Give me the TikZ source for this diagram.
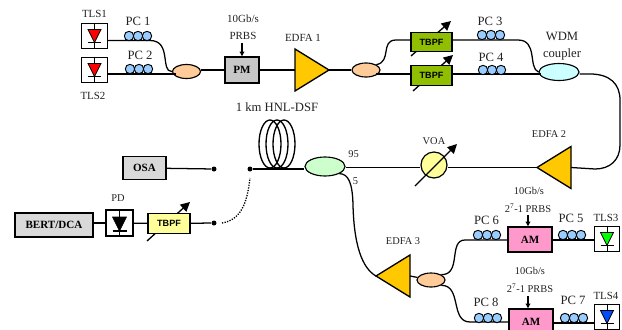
\documentclass[tikz,border=0pt]{standalone}
\usepackage{fontspec}
\setmainfont{Liberation Serif}
\newfontfamily\sansb{Liberation Sans}
\usetikzlibrary{shapes.geometric,arrows.meta}
\definecolor{edfa}{HTML}{FFC800}
\definecolor{filt}{HTML}{8FBF00}
\definecolor{pcblue}{HTML}{99CCFF}
\definecolor{peach}{HTML}{FFCC99}
\definecolor{wdm}{HTML}{CCFFFF}
\definecolor{mint}{HTML}{CCFFCC}
\definecolor{pale}{HTML}{FFFF99}
\definecolor{pink}{HTML}{FF99CC}
\definecolor{boxgray}{HTML}{D9D9D9}
\definecolor{lab}{HTML}{222222}
\newdimen\pxu \pxu=0.75pt
\tikzset{
  fib/.style={line width=0.95pt,black},
  lbl/.style={font=\fontsize{9.5}{10}\selectfont,text=lab,inner sep=0pt},
  slbl/.style={font=\fontsize{7.8}{9}\selectfont,text=lab,inner sep=0pt},
  mbox/.style={draw,line width=1.1pt,rectangle,inner sep=0pt,minimum width=#1},
  bfont/.style={font=\fontsize{8.3}{9}\selectfont\bfseries},
  filter/.style={mbox=41\pxu,minimum height=19.5\pxu,fill=filt,font=\sansb\fontsize{6.8}{8}\selectfont\bfseries},
  cpl/.style={draw,line width=0.85pt,ellipse,inner sep=0pt,minimum width=#1*2\pxu,minimum height=14\pxu},
  amp/.style={draw,line width=1pt,fill=edfa,isosceles triangle,isosceles triangle stretches,
     inner sep=0pt,outer sep=0pt,minimum width=42\pxu,minimum height=34\pxu},
  tune/.style={line width=1pt,-{Triangle[length=7pt,width=7pt]}},
  small arrow/.style={line width=0.85pt,-{Triangle[length=3.5pt,width=3.5pt]}},
  port/.style={circle,fill=black,inner sep=0pt,minimum size=5\pxu},
  pc/.pic={\foreach \i in {-9,0,9}\draw[line width=0.7pt,fill=pcblue] (\i,0) circle[radius=4.7];},
}
\newcommand{\laser}[4]{% name, x, y, colour
  \node[draw,line width=1pt,fill=white,minimum width=25.5\pxu,minimum height=25.5\pxu,inner sep=0pt] (#1) at (#2,#3) {};
  \draw[line width=0.7pt] (#1.north) -- (#1.south);
  \draw[line width=0.6pt,fill=#4] (#2-6.5,#3-6.5) -- (#2+6.5,#3-6.5) -- (#2,#3+6.5) -- cycle;
  \draw[line width=0.8pt] (#2-6.5,#3+6.5) -- (#2+6.5,#3+6.5);
}
\begin{document}
\begin{tikzpicture}[x=0.75pt,y=-0.75pt]
\useasboundingbox (0,0) rectangle (622,329);
\clip (0,0) rectangle (622,329);
% tuning arrows that pass behind the filters
\draw[tune] (411,56) -- (451,21);
\draw[tune] (413,91) -- (453,55);
\draw[tune] (147,241) -- (190,202);
% sources
\laser{tlsa}{94.5}{36}{red}
\laser{tlsb}{94.5}{70}{red}
\node[lbl,font=\fontsize{8.2}{9}\selectfont] (tlsat) at (94.5,14) {TLS1};
\node[lbl,font=\fontsize{8.2}{9}\selectfont] (tlsbt) at (93,96) {TLS2};
\node[cpl=14] (ca) at (186.5,71.5) [fill=peach] {};
\node[mbox=34\pxu,minimum height=26\pxu,fill=boxgray!80!gray,bfont] (pm) at (242,70) {PM};
\node[amp,anchor=apex,shape border rotate=0] (ea) at (329,70) {};
\node[cpl=14] (cb) at (366,70) [fill=peach] {};
\node[filter] (fa) at (431.5,42) {TBPF};
\node[filter] (fb) at (431.5,75.5) {TBPF};
\node[cpl=20,minimum height=17\pxu,fill=wdm] (wdmc) at (559,72) {};
\node[amp,anchor=apex,shape border rotate=180] (eb) at (537,167.5) {};
\node[draw,line width=0.9pt,circle,fill=pale,minimum size=26\pxu,inner sep=0pt] (voa) at (434,165) {};
\node[cpl=20,minimum height=19\pxu,fill=mint] (cc) at (325,166.5) {};
\node[port] (pa) at (250,169) {};
\node[port] (pb) at (214,169) {};
\node[port] (pc) at (214,223) {};
\node[mbox=43\pxu,minimum height=23\pxu,fill=boxgray,bfont] (osa) at (144.5,168) {OSA};
\node[mbox=78\pxu,minimum height=24\pxu,fill=boxgray,bfont] (bert) at (54,225) {BERT/DCA};
\node[draw,line width=1pt,minimum width=27\pxu,minimum height=26\pxu,inner sep=0pt] (pd) at (119.5,223) {};
\node[filter,fill=pale,minimum width=42\pxu] (fc) at (169,223.5) {TBPF};
\node[amp,anchor=apex,shape border rotate=180] (ec) at (376,276) {};
\node[cpl=14] (cd) at (431,280) [fill=peach] {};
\node[mbox=44\pxu,minimum height=25\pxu,fill=pink,bfont] (ama) at (530,239.5) {AM};
\node[mbox=44\pxu,minimum height=26\pxu,fill=pink,bfont] (amb) at (531,322) {AM};
\laser{tlsc}{607}{239}{green}
\laser{tlsd}{607}{317}{blue!70!cyan}
\coordinate (in1) at (242,43);
\coordinate (in2) at (528,215);
\coordinate (in3) at (528,296);
% fibres
\draw[fib] (tlsa.east|-0,40.5) -- (150,40.5) .. controls (172,40.5) and (160,72) .. (ca.west);
\draw[fib] (tlsb.east|-0,74) -- (176,74);
\draw[fib] (ca.east|-0,70) -- (pm.west);
\draw[fib] (pm) -- (ea.lower side);
\draw[fib] (ea) -- (cb);
\draw[fib] (cb.north east) .. controls (392,62) and (380,40) .. (396,40) -- (fa.west|-0,40);
\draw[fib] (cb.south east|-0,74) -- (fb.west|-0,74);
\draw[fib] (fa.east|-0,40) -- (518,40) .. controls (538,40) and (528,68) .. (wdmc.west);
\draw[fib] (fb.east|-0,74) -- (541,74);
\draw[fib] (wdmc.east|-0,74) -- (590,74) .. controls (610,74) and (620,84) .. (620,100) -- (620,145) .. controls (620,160) and (610,169) .. (595,169) -- (eb.lower side);
\draw[fib] (eb.apex) -- (voa.east|-0,167.5);
\draw[fib] (voa.west|-0,167.5) -- (cc.east|-0,167.5);
\draw[fib] (pa) -- (cc.west|-0,169);
\draw[fib] (osa) -- (pb);
\draw[fib] (bert.east|-0,223) -- (pd.west|-0,223);
\draw[fib] (pd) -- (fc);
\draw[fib] (fc) -- (pc);
\draw[fib,densely dotted,line width=1pt] (222,223) .. controls (240,220) and (247,205) .. (250,178);
\draw[fib] (cc.south east) .. controls (348,174) and (352.5,182) .. (353,205) .. controls (354,245) and (362,268) .. (ec.apex);
\draw[fib] (ec.lower side) -- (cd);
\draw[fib] (cd.north east) .. controls (462,275) and (448,240) .. (465,240) -- (ama.west|-0,240);
\draw[fib] (cd.south east) .. controls (462,285) and (450,322) .. (470,322) -- (amb.west|-0,322);
\draw[fib] (ama.east|-0,240) -- (tlsc.west|-0,240);
\draw[fib] (amb.east|-0,323) -- (tlsd.west|-0,323);
% coil
\foreach \xc in {270,277,284}
  \draw[line width=1pt] (\xc,144) ellipse [x radius=11,y radius=24];
% polarisation controllers
\path (138,36) pic {pc} (139,69) pic {pc} (491,35) pic {pc} (492,70) pic {pc}
      (487,235) pic {pc} (572,235) pic {pc} (488,318) pic {pc} (574,318) pic {pc};
% arrows on top
\draw[tune] (415,186) -- (457,144);
\draw[small arrow] (in1) -- (pm.north);
\draw[small arrow] (in2) -- (ama.north-|in2);
\draw[small arrow] (in3) -- (amb.north-|in3);
% photodiode
\draw[line width=0.7pt] (pd.north) -- (pd.south);
\draw[fill=black] (112.5,217) -- (126.5,217) -- (119.5,231) -- cycle;
\draw[line width=0.8pt] (112.5,231) -- (126.5,231);
% labels
\node[lbl] (pc1t) at (138,21) {PC 1};
\node[lbl] (pc2t) at (140,55.5) {PC 2};
\node[lbl,font=\fontsize{8.2}{9}\selectfont] (prbsa) at (243,19) {10Gb/s};
\node[lbl,font=\fontsize{8.2}{9}\selectfont] (prbsb) at (243,36) {PRBS};
\node[lbl,font=\fontsize{8.2}{9}\selectfont] (eat) at (303,38) {EDFA 1};
\node[lbl] (pc3t) at (490,21) {PC 3};
\node[lbl] (pc4t) at (491,57) {PC 4};
\node[lbl] (wt) at (562,36) {WDM};
\node[lbl] (ct) at (562,54) {coupler};
\node[lbl] (hnl) at (277,107) {1 km HNL-DSF};
\node[slbl] (ebt) at (549,134) {EDFA 2};
\node[slbl] (voat) at (434,141) {VOA};
\node[slbl] (t95) at (353.5,154) {95};
\node[slbl] (t5) at (355.5,181) {5};
\node[slbl] (pdt) at (118,198) {PD};
\node[slbl] (ect) at (403,241) {EDFA 3};
\node[slbl] (ga) at (529,191) {10Gb/s};
\node[slbl] (pa2) at (528,208) {2\textsuperscript{7}-1 PRBS};
\node[slbl] (gb) at (530,271) {10Gb/s};
\node[slbl] (pb2) at (530,288) {2\textsuperscript{7}-1 PRBS};
\node[lbl] (pc6t) at (486.5,220) {PC 6};
\node[lbl] (pc5t) at (571,218) {PC 5};
\node[lbl] (pc8t) at (486,302) {PC 8};
\node[lbl] (pc7t) at (573,300) {PC 7};
\node[lbl,font=\fontsize{8.2}{9}\selectfont] (tlsct) at (606,218) {TLS3};
\node[lbl,font=\fontsize{8.2}{9}\selectfont] (tlsdt) at (606,296) {TLS4};
\end{tikzpicture}
\end{document}
